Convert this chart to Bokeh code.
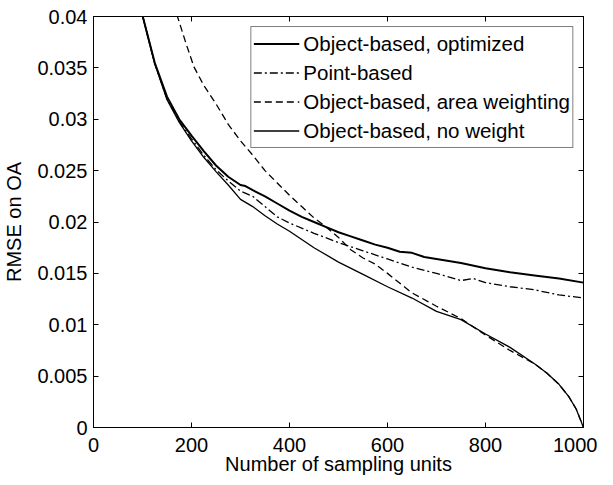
from bokeh.plotting import figure
from bokeh.models import LinearAxis, FixedTicker, CustomJSTickFormatter, Range1d, Legend, LegendItem
from bokeh.embed import file_html
from bokeh.resources import INLINE

# ---- data ----
opt_x = [100, 125, 150, 175, 200, 225, 250, 275, 300, 310, 325, 350, 375, 400, 425, 450, 475, 500,
         525, 550, 575, 600, 625, 650, 675, 700, 750, 800, 850, 900, 950, 1000]
opt_y = [0.0401, 0.0355, 0.0322, 0.0300, 0.0284, 0.0269, 0.0255, 0.0244, 0.0236, 0.0235, 0.0231,
         0.0225, 0.0218, 0.0211, 0.0205, 0.0200, 0.0195, 0.0190, 0.0186, 0.0182, 0.0178, 0.0175,
         0.0171, 0.0170, 0.0166, 0.0164, 0.0160, 0.0155, 0.0151, 0.0148, 0.0145, 0.0141]

pt_x = [100, 125, 150, 175, 200, 225, 250, 275, 300, 325, 350, 375, 400, 450, 500, 550, 600, 650,
        700, 750, 775, 800, 850, 900, 950, 1000]
pt_y = [0.0401, 0.0354, 0.0320, 0.0298, 0.0281, 0.0265, 0.0251, 0.0240, 0.0230, 0.0225, 0.0215,
        0.0205, 0.0199, 0.0189, 0.0180, 0.0172, 0.0164, 0.0156, 0.0150, 0.0143, 0.0145, 0.0141,
        0.0137, 0.0134, 0.0129, 0.0126]

area_x = [170, 190, 205, 225, 250, 275, 300, 325, 350, 375, 400, 425, 450, 475, 500, 525, 550, 575,
          600, 650, 700, 750, 800, 850, 900, 925, 950, 970, 985, 1000]
area_y = [0.0402, 0.0372, 0.0351, 0.0333, 0.0315, 0.0295, 0.0279, 0.0265, 0.0250, 0.0238, 0.0226,
          0.0215, 0.0204, 0.0195, 0.0185, 0.0173, 0.0165, 0.0159, 0.0150, 0.0131, 0.0118, 0.0106,
          0.0090, 0.0075, 0.0062, 0.0053, 0.0042, 0.0030, 0.0018, 0.0]

nw_x = [100, 125, 150, 175, 200, 225, 250, 275, 300, 325, 350, 375, 400, 450, 500, 550, 600, 650,
        700, 750, 800, 850, 900, 925, 950, 970, 985, 1000]
nw_y = [0.0401, 0.0354, 0.0319, 0.0297, 0.0279, 0.0263, 0.0249, 0.0236, 0.0222, 0.0215, 0.0206,
        0.0198, 0.0191, 0.0175, 0.0161, 0.0149, 0.0137, 0.0126, 0.0113, 0.0105, 0.0091, 0.0078,
        0.0062, 0.0053, 0.0042, 0.0030, 0.0018, 0.0]

x_ticks = [0, 200, 400, 600, 800, 1000]
y_ticks = [0, 0.005, 0.01, 0.015, 0.02, 0.025, 0.03, 0.035, 0.04]
labels = ["Object-based, optimized", "Point-based", "Object-based, area weighting",
          "Object-based, no weight"]

FONT = "Liberation Sans"
FS = "20px"

p = figure(width=597, height=477, output_backend="svg", toolbar_location=None,
           x_range=Range1d(0, 1000), y_range=Range1d(0, 0.04),
           min_border_left=92, min_border_right=14, min_border_top=16, min_border_bottom=50)
p.xgrid.visible = False
p.ygrid.visible = False
p.outline_line_color = "black"
p.outline_line_width = 1
p.background_fill_color = "white"
p.border_fill_color = "white"

fmt = CustomJSTickFormatter(code="return tick.toString();")

def style(ax, show_labels=True):
    ax.axis_line_color = "black"
    ax.major_tick_line_color = "black"
    ax.major_tick_in = 5
    ax.major_tick_out = 0
    ax.minor_tick_line_color = None
    ax.major_label_text_font = FONT
    ax.major_label_text_font_size = FS
    ax.major_label_text_color = "black" if show_labels else None
    ax.axis_label_text_font = FONT
    ax.axis_label_text_font_size = FS
    ax.axis_label_text_font_style = "normal"
    ax.axis_label_text_color = "black"

xa = p.xaxis[0]
xa.ticker = FixedTicker(ticks=x_ticks)
xa.axis_label = "Number of sampling units"
style(xa)
xa.major_label_standoff = 10
xa.axis_label_standoff = -2

ya = p.yaxis[0]
ya.ticker = FixedTicker(ticks=y_ticks)
ya.formatter = fmt
ya.axis_label = "RMSE on OA"
style(ya)
ya.major_label_standoff = 6
ya.axis_label_standoff = 9

for loc in ("above", "right"):
    ax = LinearAxis(ticker=FixedTicker(ticks=x_ticks if loc == "above" else y_ticks))
    style(ax, False)
    ax.major_label_text_font_size = "0px"
    ax.major_label_standoff = 0
    ax.axis_label_standoff = 0
    p.add_layout(ax, loc)

r1 = p.line(opt_x, opt_y, line_color="black", line_width=2)
r2 = p.line(pt_x, pt_y, line_color="black", line_width=1.3, line_dash="8 3 2 3")
r3 = p.line(area_x, area_y, line_color="black", line_width=1.3, line_dash="7 4")
r4 = p.line(nw_x, nw_y, line_color="black", line_width=1.3)

legend = Legend(items=[LegendItem(label=labels[0], renderers=[r1]),
                       LegendItem(label=labels[1], renderers=[r2]),
                       LegendItem(label=labels[2], renderers=[r3]),
                       LegendItem(label=labels[3], renderers=[r4])],
                location="top_right")
legend.margin = 10
legend.padding = 2
legend.spacing = 0
legend.glyph_width = 46
legend.glyph_height = 29
legend.label_height = 29
legend.label_standoff = 4
legend.label_text_font = FONT
legend.label_text_font_size = "20.5px"
legend.label_text_color = "black"
legend.border_line_color = "black"
legend.border_line_width = 1
legend.background_fill_alpha = 1.0
p.add_layout(legend, "center")

open("out.html", "w").write(file_html(p, INLINE))
